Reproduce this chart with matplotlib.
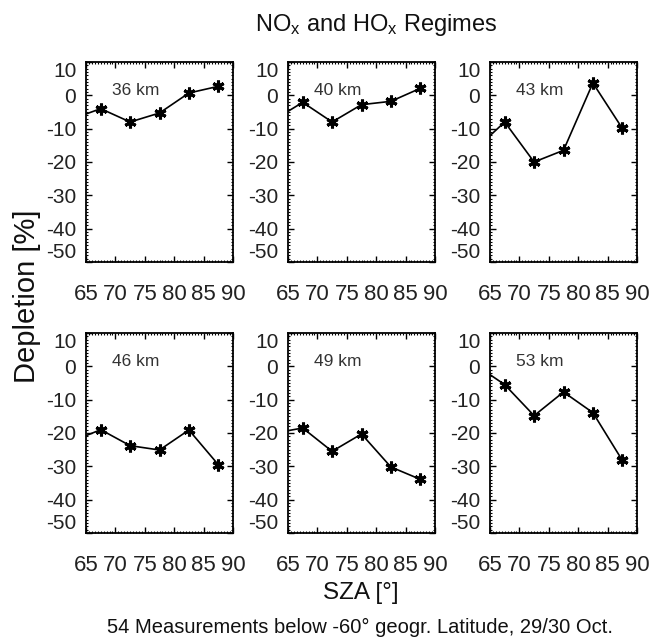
import numpy as np
import matplotlib
matplotlib.use("Agg")
import matplotlib.pyplot as plt
from matplotlib.ticker import MultipleLocator

plt.rcParams["font.family"] = ["Liberation Sans", "DejaVu Sans"]
plt.rcParams["mathtext.fontset"] = "custom"
plt.rcParams["mathtext.rm"] = "Liberation Sans"
plt.rcParams["mathtext.it"] = "Liberation Sans"

# SZA bin centres (first bin lies left of the plotted range)
sza = [62.5, 67.5, 72.5, 77.5, 82.5, 87.5]

altitudes = ["36 km", "40 km", "43 km", "46 km", "49 km", "53 km"]

dep_36 = [-7.2, -4.0, -8.0, -5.3, 0.7, 2.7]
dep_40 = [-7.5, -2.1, -8.0, -2.8, -1.8, 2.1]
dep_43 = [-16.2, -8.0, -20.0, -16.5, 3.7, -9.9]
dep_46 = [-22.6, -19.0, -23.8, -25.1, -19.1, -29.5]
dep_49 = [-20.1, -18.5, -25.5, -20.3, -30.2, -33.9]
dep_53 = [0.5, -5.5, -14.8, -7.7, -13.9, -28.2]

depletions = [dep_36, dep_40, dep_43, dep_46, dep_49, dep_53]

xticks = [65, 70, 75, 80, 85, 90]
yticks = [10, 0, -10, -20, -30, -40, -50]

W, H = 664, 638
fig = plt.figure(figsize=(W / 100, H / 100), dpi=100)

lefts = [86, 288, 490]
tops = [62, 333]
pw, ph = 147, 200

for i, (alt, dep) in enumerate(zip(altitudes, depletions)):
    row, col = divmod(i, 3)
    ax = fig.add_axes([lefts[col] / W, 1 - (tops[row] + ph) / H, pw / W, ph / H])

    ax.plot(sza, dep, color="black", lw=1.2, marker=(6, 2, 0),
            ms=8.5, mew=2.2, mec="black")

    ax.set_xlim(65, 90)
    ax.set_ylim(-50, 10)
    ax.set_xticks(xticks)
    ax.set_xticklabels([str(t) for t in xticks])
    ax.set_yticks(yticks)
    ax.set_yticklabels([str(t) for t in yticks])
    ax.xaxis.set_minor_locator(MultipleLocator(0.5))
    ax.yaxis.set_minor_locator(MultipleLocator(1))

    ax.tick_params(which="both", direction="in", top=True, right=True,
                   color="black", width=1)
    ax.tick_params(which="major", length=4, labelcolor="#222222")
    ax.tick_params(which="minor", length=1.5, width=0.8)
    ax.tick_params(axis="x", which="major", pad=16, labelsize=16)
    ax.tick_params(axis="y", which="major", pad=7, labelsize=15)

    # end labels sit inside the axis range
    ylabs = ax.get_yticklabels()
    ylabs[0].set_va("top")
    ylabs[-1].set_va("bottom")

    for sp in ax.spines.values():
        sp.set_linewidth(1.3)

    ax.text(73.5, 1.3, alt, fontsize=12.5, color="#333333",
            ha="center", va="center")

fig.text(376 / W, 1 - 25 / H, r"NO$_{\mathregular{x}}$ and HO$_{\mathregular{x}}$ Regimes",
         fontsize=17, ha="center", va="center", color="#111111")
fig.text(27 / W, 1 - 296 / H, "Depletion [%]", fontsize=21, rotation=90,
         ha="center", va="center", color="#111111")
fig.text(361 / W, 1 - 593 / H, "SZA [°]", fontsize=17.5,
         ha="center", va="center", color="#111111")
fig.text(360 / W, 1 - 627 / H,
         "54 Measurements below -60° geogr. Latitude, 29/30 Oct.",
         fontsize=14.5, ha="center", va="center", color="#111111")

fig.savefig("out.png", dpi=100)
